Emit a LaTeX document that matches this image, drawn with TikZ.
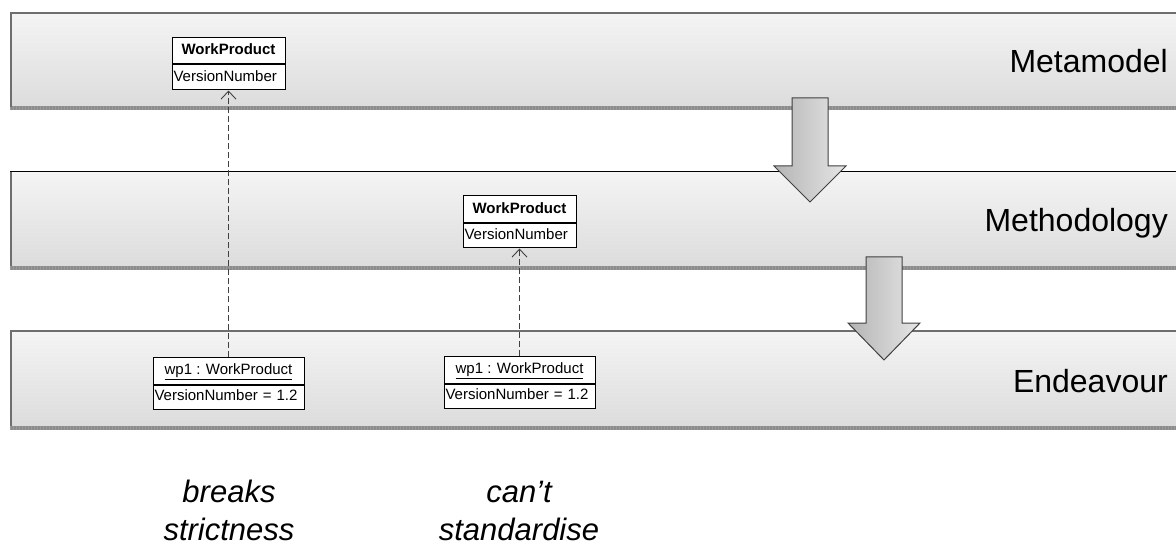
\documentclass[tikz,border=0pt]{standalone}
\usepackage{fontspec}
\setmainfont{Liberation Sans}
\usetikzlibrary{arrows.meta}
\definecolor{bandtop}{HTML}{F4F4F4}
\definecolor{bandbot}{HTML}{DCDCDC}
\definecolor{bandedge}{HTML}{6E6E6E}
\definecolor{hatch}{HTML}{8C8C8C}
\definecolor{arrowdark}{HTML}{B4B4B4}
\definecolor{arrowlight}{HTML}{E6E6E6}
\begin{document}
\begin{tikzpicture}[x=1pt,y=-1pt,
  band/.style={top color=bandtop, bottom color=bandbot, draw=none},
  bandside/.style={draw=bandedge, line width=2pt},
  bandfoot/.style={draw=hatch, line width=4pt},
  hatchmark/.style={draw=bandbot!70!black, line width=4pt, dash pattern=on 1pt off 2pt},
  layername/.style={anchor=base east, inner sep=0pt, font=\fontsize{32}{38}\selectfont},
  umltext/.style={font=\fontsize{15}{18}\selectfont, text height=11pt, text depth=3.5pt},
  namepart/.style={umltext, draw=black, fill=white, line width=1pt, inner sep=1.5pt, align=center},
  attrpart/.style={umltext, draw=black, fill=white, line width=1pt, inner sep=1.5pt, align=left, anchor=north},
  instof/.style={draw=black!75, line width=0.9pt, dash pattern=on 6pt off 3pt,
    -{Straight Barb[length=8pt,width=15pt,line width=0.9pt]}},
  bigarrow/.style={left color=arrowdark, right color=arrowlight, draw=black!75, line width=1pt, line join=miter},
  remark/.style={anchor=base, inner sep=0pt, font=\fontsize{31}{37}\selectfont\itshape}]
\useasboundingbox (0,0) rectangle (1176,548);

% ---- the three layers ----
% Metamodel
\fill[band] (10,13) rectangle (1190,107);
\draw[bandfoot] (10,108) -- (1190,108);
\draw[hatchmark] (10,108) -- (1190,108);
\draw[bandside] (11,107) -- (11,13) -- (1190,13);
% Methodology
\fill[band] (10,172) rectangle (1190,266);
\draw[bandfoot] (10,268) -- (1190,268);
\draw[hatchmark] (10,268) -- (1190,268);
\draw[bandside] (11,266) -- (11,172);
\draw[black, line width=1pt] (10,172) -- (1190,172);
% Endeavour
\fill[band] (10,331) rectangle (1190,426);
\draw[bandfoot] (10,428) -- (1190,428);
\draw[hatchmark] (10,428) -- (1190,428);
\draw[bandside] (11,426) -- (11,331) -- (1190,331);

\node[layername] (lMeta) at (1168,73) {Metamodel};
\node[layername] (lMeth) at (1168,232) {Methodology};
\node[layername] (lEnd)  at (1168,392) {Endeavour};

% ---- flow arrows between layers ----
\draw[bigarrow] (792,98) -- (828,98) -- (828,166) -- (846,166) -- (810,202)
  -- (774,166) -- (792,166) -- cycle;
\draw[bigarrow] (866,257) -- (902,257) -- (902,323) -- (920,323) -- (884,360)
  -- (848,323) -- (866,323) -- cycle;

% ---- metamodel class ----
\node[namepart, minimum width=113pt, minimum height=26pt] (mmName) at (228.5,51) {\textbf{WorkProduct}};
\node[attrpart, text width=110pt, minimum height=25pt] (mmAttr) at (mmName.south) {VersionNumber};

% ---- methodology class ----
\node[namepart, minimum width=113pt, minimum height=27pt] (mtName) at (519.5,209.5) {\textbf{WorkProduct}};
\node[attrpart, text width=110pt, minimum height=24pt] (mtAttr) at (mtName.south) {VersionNumber};

% ---- endeavour objects ----
\node[namepart, minimum width=151pt, minimum height=27pt] (edLName) at (228.5,370.5) {\underline{wp1 : WorkProduct}};
\node[attrpart, text width=148pt, minimum height=24pt] (edLAttr) at (edLName.south) {VersionNumber = 1.2};
\node[namepart, minimum width=151pt, minimum height=27pt] (edRName) at (519.5,369.5) {\underline{wp1 : WorkProduct}};
\node[attrpart, text width=148pt, minimum height=24pt] (edRAttr) at (edRName.south) {VersionNumber = 1.2};

% ---- instance-of links ----
\draw[instof] (edLName.north) -- (mmAttr.south);
\draw[instof] (edRName.north) -- (mtAttr.south);

% ---- remarks ----
\node[remark] (r1a) at (229,502) {breaks};
\node[remark] (r1b) at (229,540) {strictness};
\node[remark] (r2a) at (519,502) {can’t};
\node[remark] (r2b) at (519,540) {standardise};
\end{tikzpicture}
\end{document}
